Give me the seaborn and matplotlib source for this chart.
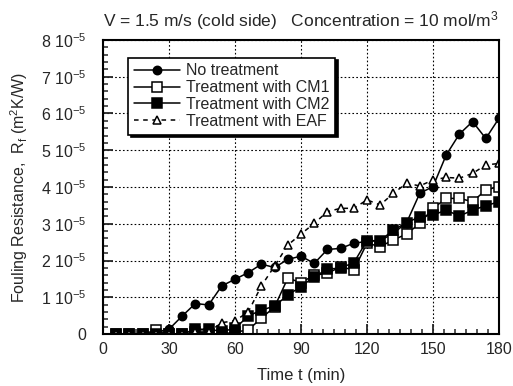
import matplotlib
matplotlib.use("Agg")
import matplotlib.pyplot as plt
from matplotlib.ticker import MultipleLocator, FuncFormatter
import seaborn as sns
import pandas as pd

# time points (min) and fouling resistance values (units of 1e-5 m2K/W)
time_min = [6, 12, 18, 24, 30, 36, 42, 48, 54, 60, 66, 72, 78, 84, 90,
            96, 102, 108, 114, 120, 126, 132, 138, 144, 150, 156, 162, 168, 174, 180]
no_treatment = [0.0, 0.0, 0.0, 0.05, 0.13, 0.49, 0.83, 0.79, 1.31, 1.49, 1.67, 1.90, 1.81, 2.03, 2.12,
                1.92, 2.30, 2.33, 2.47, 2.52, 2.54, 2.74, 3.03, 3.83, 4.01, 4.87, 5.44, 5.78, 5.32, 5.87]
cm1 = [0.0, 0.0, 0.0, 0.1, 0.0, 0.0, 0.05, 0.0, 0.0, 0.05, 0.11, 0.43, 0.74, 1.52, 1.40,
       1.60, 1.65, 1.83, 1.74, 2.47, 2.38, 2.56, 2.72, 3.01, 3.42, 3.69, 3.69, 3.60, 3.92, 4.01]
cm2 = [0.0, 0.0, 0.0, 0.0, 0.0, 0.0, 0.13, 0.13, 0.07, 0.15, 0.49, 0.65, 0.76, 1.06, 1.29,
       1.56, 1.76, 1.80, 1.94, 2.54, 2.54, 2.83, 3.03, 3.19, 3.24, 3.37, 3.21, 3.37, 3.49, 3.60]
eaf = [0.0, 0.0, 0.0, 0.0, 0.0, 0.0, 0.05, 0.05, 0.31, 0.36, 0.60, 1.31, 1.85, 2.42, 2.72,
       3.01, 3.33, 3.42, 3.42, 3.65, 3.51, 3.83, 4.10, 4.03, 4.19, 4.26, 4.24, 4.37, 4.60, 4.64]

labels = ["No treatment", "Treatment with CM1", "Treatment with CM2", "Treatment with EAF"]

sns.set_style("white")
plt.rcParams['font.family'] = ['Liberation Sans', 'DejaVu Sans']
plt.rcParams['mathtext.default'] = 'regular'

df = pd.DataFrame({'Time': time_min, labels[0]: no_treatment, labels[1]: cm1,
                   labels[2]: cm2, labels[3]: eaf})
df = df.melt('Time', var_name='Series', value_name='Rf')
df['Rf'] = df['Rf'] * 1e-5

styles = {
    labels[0]: dict(marker='o', mfc='black', ls='-', ms=6),
    labels[1]: dict(marker='s', mfc='white', ls='-', ms=6.5),
    labels[2]: dict(marker='s', mfc='black', ls='-', ms=6.5),
    labels[3]: dict(marker='^', mfc='white', ls=(0, (3, 3)), ms=6),
}

fig = plt.figure(figsize=(5.13, 3.86), dpi=100)
ax = fig.add_axes([0.2008, 0.1347, 0.7719, 0.7617])

for name in labels:
    st = styles[name]
    sns.lineplot(data=df[df.Series == name], x='Time', y='Rf', ax=ax, color='black',
                 marker=st['marker'], markerfacecolor=st['mfc'], markeredgecolor='black',
                 markeredgewidth=1.1, markersize=st['ms'], linestyle=st['ls'],
                 linewidth=1.1, label=name)

ax.set_xlim(0, 180)
ax.set_ylim(0, 8e-5)
ax.xaxis.set_major_locator(MultipleLocator(30))
ax.xaxis.set_minor_locator(MultipleLocator(5))
ax.yaxis.set_major_locator(MultipleLocator(1e-5))
ax.yaxis.set_minor_locator(MultipleLocator(0.2e-5))


def yfmt(v, pos):
    n = int(round(v * 1e5))
    return '0' if n == 0 else '%d 10$^{-5}$' % n


ax.yaxis.set_major_formatter(FuncFormatter(yfmt))
ax.grid(True, which='major', color='black', linestyle=(0, (1.5, 2)), linewidth=0.8)
ax.tick_params(axis='x', which='major', pad=6)
ax.tick_params(axis='y', which='major', pad=12)
ax.tick_params(which='major', direction='in', length=7, width=1.3, labelsize=11.5,
               left=True, bottom=True)
ax.tick_params(which='minor', direction='in', length=3.5, width=1.1, left=True, bottom=True)
for s in ax.spines.values():
    s.set_color('black')
    s.set_linewidth(1.5)

ax.set_xlabel('Time t (min)', fontsize=12, labelpad=8)
ax.set_ylabel('Fouling Resistance,  R$_f$ (m$^2$K/W)', fontsize=11.5, labelpad=8)
ax.set_title('V = 1.5 m/s (cold side)   Concentration = 10 mol/m$^3$', fontsize=12.5, pad=10,
             x=0.50)

leg = ax.legend(loc='upper left', bbox_to_anchor=(0.063, 0.94), fontsize=11.5,
                frameon=True, fancybox=False, shadow={'color': 'black', 'alpha': 1},
                handlelength=2.9, borderpad=0.35, labelspacing=0.12, handletextpad=0.4,
                borderaxespad=0)
leg.get_frame().set_edgecolor('black')
leg.get_frame().set_linewidth(1.2)

fig.savefig('out.png', dpi=100)
